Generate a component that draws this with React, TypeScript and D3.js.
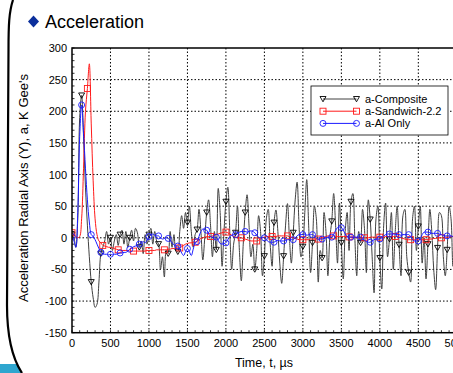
import { useEffect, useRef } from 'react'
import * as d3 from 'd3'

// sample time base, us (every 25 us)
const time = d3.range(0, 5001, 25)

const composite = [
  5, 0, -15, 30, 190, 225, 160, 80,
  20, -30, -70, -95, -110, -105, -70, -25,
  -15, -5, 10, -10, 0, -20, -5, 5,
  -12, 5, 12, -10, 10, -15, 0, 12,
  -5, 15, 8, -15, -5, -25, 5, -10,
  5, 15, -10, 10, -5, -10, -50, -30,
  -62, -20, -25, 10, -15, 5, -20, -22,
  10, 35, 15, 40, 24, 50, 10, -15,
  5, 13, 45, 10, -35, 0, 40, 60,
  20, -30, 10, -19, 78, 40, -45, 10,
  57, 80, 10, -50, -10, 8, 50, -20,
  -68, -10, 40, 68, 20, -30, -10, -50,
  -20, 35, 10, -60, -29, 30, 45, -10,
  -45, 24, 44, 10, -40, -72, -29, 20,
  54, 0, -40, 8, 60, 88, 20, -30,
  -14, 40, 92, 20, -55, -8, 50, 30,
  -70, -20, -32, 40, 10, -60, 0, 26,
  70, 20, -40, 55, -8, -65, 10, 40,
  -20, 57, 70, 0, -60, 10, -8, 45,
  15, -55, 60, 29, -30, -87, 30, 50,
  -32, -81, 20, 55, -30, -2, 40, -50,
  10, 50, -11, -60, 35, 45, -30, -55,
  -70, 30, 50, -20, 18, 50, -40, 0,
  -65, -10, 45, 10, -50, -82, -16, 40,
  35, -30, -60, -19, 50, 30, -45, 0,
  20,
]

const sandwich = [
  8, 5, 2, 0, 2, 30, 110, 200,
  236, 275, 180, 90, 30, 5, -5, -8,
  -12, -13, -14, -15, -15, -16, -17, -18,
  -19, -19, -20, -20, -20, -20, -21, -21,
  -21, -21, -21, -21, -21, -21, -21, -20,
  -20, -20, -20, -20, -19, -19, -19, -19,
  -19, -19, -18, -18, -17, -17, -16, -16,
  -16, -14, -12, -10, -9, -8, -8, -7,
  -7, -5, -3, -1, 0, 1, 2, 2,
  2, 3, 4, 5, 6, 7, 8, 9,
  9, 8, 6, 4, 2, 1, 0, 0,
  0, -1, -2, -3, -4, -5, -5, -5,
  -5, -4, -2, 0, 1, 2, 2, 2,
  2, 2, 2, 3, 3, 3, 3, 3,
  3, 2, 1, 0, -1, -2, -3, -3,
  -3, -3, -3, -3, -2, -2, -2, -2,
  -2, -1, 0, 1, 2, 3, 3, 3,
  3, 2, 2, 2, 2, 2, 2, 2,
  1.5, 1, 1, 1, 0, 0, 0, 0,
  0, 0, 0, 1, 1, 1, 1, 1,
  1, 1, 1, 2, 2, 2, 2, 2,
  2, 2, 1, 0, -1, -2, -3, -3,
  -3, -3, -3, -3, -3, -3, -3, -3,
  -3, -3, -2, -2, -1, -1, 0, 0,
  0, 0, 1, 1, 1, 2, 2, 2,
  2,
]

const alOnly = [
  2, -5, -15, 40, 160, 210, 165, 110,
  60, 25, 5, 2, -3, -10, -17, -23,
  -25, -26, -26, -27, -26, -27, -26, -26,
  -25, -24, -24, -23, -23, -21, -18, -16,
  -14, -13, -12, -10, -8, -6, -8, -4,
  2, 5, 6, 4, 3, 3, 0, -2,
  -1, 0, -1, -4, -8, -11, -13, -13,
  -18, -24, -28, -22, -17, -22, -28, -18,
  -8, -6, 2, 10, 14, 13, 12, 6,
  2, 1, 0, 1, -4, -9, -10, -9,
  -8, -3, 2, 4, 5, 5, 7, 9,
  10, 10, 10, 9, 10, 11, 10, 8,
  4, 1, 0, 1, 0, -3, -6, -7,
  -7, -7, -5, -4, -5, -5, -5, -4,
  -3, -3, -3, -3, 0, 3, 5, 5,
  5, 6, 4, 5, 5, 5, 3, 0,
  -3, -2, -2, -1, 0, 1, 1, 1,
  5, 12, 16, 17, 16, 12, 6, 2,
  1, 1, 1, 1, 1, 1, 1, -1,
  -4, -6, -7, -7, -5, -3, -2, -2,
  -2, 0, 3, 5, 6, 6, 6, 6,
  6, 5, 5, 4, 5, 5, 5, 5,
  2, -3, -5, -5, -5, -1, 5, 9,
  9, 9, 8, 7, 7, 7, 7, 6,
  5, 4, 3, 3, 3, 3, 2, 2,
  3,
]

const xTicks = [0, 500, 1000, 1500, 2000, 2500, 3000, 3500, 4000, 4500, 5000]
const yTicks = [-150, -100, -50, 0, 50, 100, 150, 200, 250, 300]

const seriesNames = ['a-Composite', 'a-Sandwich-2.2', 'a-Al Only']

const App = () => {
  const svgRef = useRef<SVGSVGElement>(null)

  useEffect(() => {
    if (!svgRef.current) return
    document.body.style.margin = '0'
    const svg = d3.select(svgRef.current)
    svg.selectAll('*').remove()

    const font = 'Arial, "Liberation Sans", sans-serif'
    const left = 72, top = 48, right = 456.8, bottom = 332.7

    const x = d3.scaleLinear().domain([0, 5000]).range([left, right])
    const y = d3.scaleLinear().domain([-150, 300]).range([bottom, top])

    // frame on the left
    svg.append('path')
      .attr('d', 'M0,364 L17.5,364 L22,373 L0,373 Z')
      .attr('fill', '#2fa6cf')
    svg.append('path')
      .attr('d', 'M13,0 C9,12 8.5,25 8.5,50 L7,305 C7,335 12,358 22,373')
      .attr('fill', 'none')
      .attr('stroke', '#000')
      .attr('stroke-width', 2.2)

    // title
    svg.append('path')
      .attr('d', 'M33.5,15.5 L39,21.5 L33.5,27.5 L28,21.5 Z')
      .attr('fill', '#0b2f9c')
    svg.append('text')
      .attr('x', 45).attr('y', 28)
      .style('font-family', font).style('font-size', '18px').style('fill', '#000')
      .text('Acceleration')

    // grid
    const grid = svg.append('g')
    xTicks.slice(1, -1).forEach(t => {
      grid.append('line')
        .attr('x1', x(t)).attr('x2', x(t)).attr('y1', top).attr('y2', bottom)
        .attr('stroke', '#000').attr('stroke-width', 1).attr('stroke-dasharray', '1.5,2')
    })
    yTicks.slice(1, -1).forEach(v => {
      grid.append('line')
        .attr('x1', left).attr('x2', right).attr('y1', y(v)).attr('y2', y(v))
        .attr('stroke', '#000').attr('stroke-width', 1).attr('stroke-dasharray', '1.5,2')
    })

    // minor ticks
    d3.range(0, 5001, 100).forEach(t => {
      svg.append('line')
        .attr('x1', x(t)).attr('x2', x(t)).attr('y1', bottom).attr('y2', bottom - 2.5)
        .attr('stroke', '#000').attr('stroke-width', 0.8)
    })
    d3.range(-150, 301, 10).forEach(v => {
      svg.append('line')
        .attr('x1', left).attr('x2', left + 2.5).attr('y1', y(v)).attr('y2', y(v))
        .attr('stroke', '#000').attr('stroke-width', 0.8)
    })

    // clip
    svg.append('defs').append('clipPath').attr('id', 'plot-clip')
      .append('rect').attr('x', left).attr('y', top - 4)
      .attr('width', right - left).attr('height', bottom - top + 4)

    const plot = svg.append('g').attr('clip-path', 'url(#plot-clip)')

    const line = d3.line<number>()
      .x((_, i) => x(time[i]))
      .y(d => y(d))
      .curve(d3.curveCatmullRom.alpha(0.5))

    const tri = (g: d3.Selection<SVGGElement, unknown, null, undefined>, cx: number, cy: number, color: string) => {
      g.append('path')
        .attr('d', `M${cx - 3},${cy - 2.5} L${cx + 3},${cy - 2.5} L${cx},${cy + 2.8} Z`)
        .attr('fill', 'none').attr('stroke', color).attr('stroke-width', 0.9)
    }
    const sq = (g: d3.Selection<SVGGElement, unknown, null, undefined>, cx: number, cy: number, color: string) => {
      g.append('rect')
        .attr('x', cx - 3).attr('y', cy - 3).attr('width', 6).attr('height', 6)
        .attr('fill', 'none').attr('stroke', color).attr('stroke-width', 0.9)
    }
    const circ = (g: d3.Selection<SVGGElement, unknown, null, undefined>, cx: number, cy: number, color: string) => {
      g.append('circle')
        .attr('cx', cx).attr('cy', cy).attr('r', 3)
        .attr('fill', 'none').attr('stroke', color).attr('stroke-width', 0.9)
    }

    const series = [
      { values: composite, color: '#404040', mark: '#000', every: 5, draw: tri },
      { values: sandwich, color: '#ff1a1a', mark: '#ff1a1a', every: 8, draw: sq },
      { values: alOnly, color: '#1a1aff', mark: '#1a1aff', every: 5, draw: circ },
    ]

    series.forEach(s => {
      const g = plot.append('g')
      g.append('path')
        .datum(s.values)
        .attr('d', line)
        .attr('fill', 'none')
        .attr('stroke', s.color)
        .attr('stroke-width', 1)
      s.values.forEach((v, i) => {
        if (i % s.every === 0) s.draw(g, x(time[i]), y(v), s.mark)
      })
    })

    // plot border
    svg.append('rect')
      .attr('x', left).attr('y', top).attr('width', right - left).attr('height', bottom - top)
      .attr('fill', 'none').attr('stroke', '#000').attr('stroke-width', 1.5)

    // tick labels
    xTicks.forEach(t => {
      svg.append('text')
        .attr('x', x(t)).attr('y', 347)
        .attr('text-anchor', 'middle')
        .style('font-family', font).style('font-size', '11px').style('fill', '#000')
        .text(String(t))
    })
    yTicks.forEach(v => {
      svg.append('text')
        .attr('x', 67).attr('y', y(v) + 4)
        .attr('text-anchor', 'end')
        .style('font-family', font).style('font-size', '11px').style('fill', '#000')
        .text(String(v))
    })

    // axis labels
    svg.append('text')
      .attr('x', 264).attr('y', 367)
      .attr('text-anchor', 'middle')
      .style('font-family', font).style('font-size', '12.5px').style('fill', '#000')
      .text('Time, t, µs')
    svg.append('text')
      .attr('transform', 'translate(28,188) rotate(-90)')
      .attr('text-anchor', 'middle')
      .style('font-family', font).style('font-size', '13px').style('fill', '#000')
      .text("Acceleration Radial Axis (Y), a, K Gee's")

    // legend
    const legend = svg.append('g')
    legend.append('rect')
      .attr('x', 311).attr('y', 86).attr('width', 137).attr('height', 49)
      .attr('fill', '#fff').attr('stroke', '#000').attr('stroke-width', 0.8)
    series.forEach((s, i) => {
      const ry = 99 + i * 12.2
      const row = legend.append('g')
      row.append('line')
        .attr('x1', 323).attr('x2', 356.5).attr('y1', ry).attr('y2', ry)
        .attr('stroke', s.color).attr('stroke-width', 1)
      s.draw(row, 323, ry, s.mark)
      s.draw(row, 356.5, ry, s.mark)
      row.append('text')
        .attr('x', 365).attr('y', ry + 4)
        .style('font-family', font).style('font-size', '11px').style('fill', '#000')
        .text(seriesNames[i])
    })
  }, [])

  return (
    <svg
      ref={svgRef}
      width={453}
      height={373}
      style={{ position: 'absolute', left: 0, top: 0, background: '#fff' }}
    />
  )
}

export default App
